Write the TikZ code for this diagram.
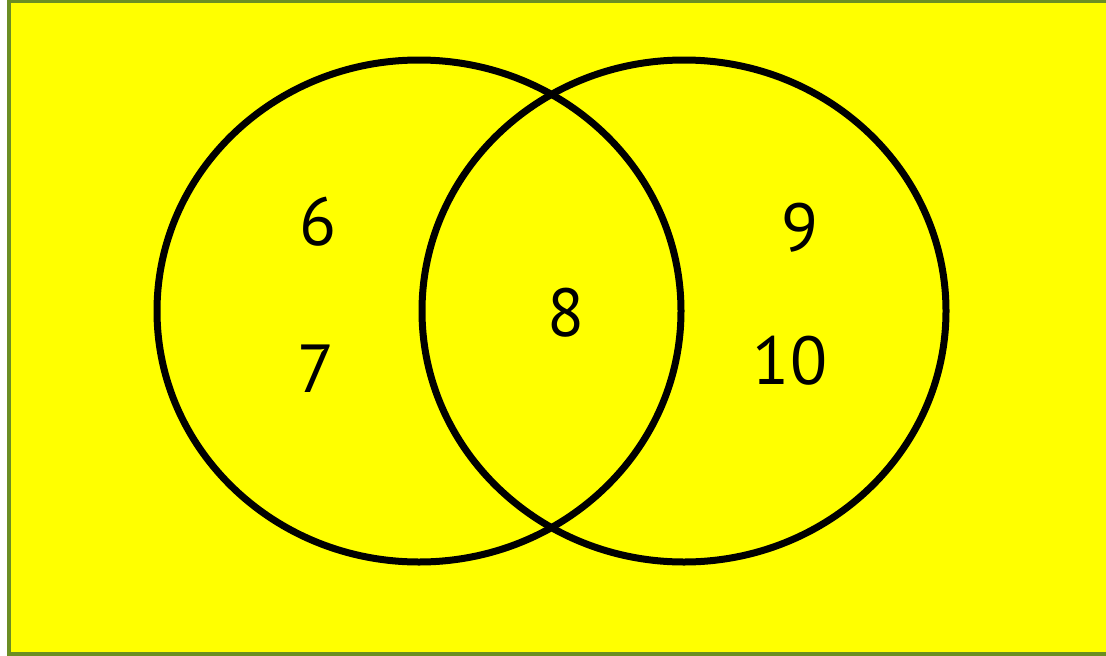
\documentclass[tikz,border=0pt]{standalone}
\usepackage{fontspec}
\setmainfont{PT Sans}
\usepackage{xcolor}
\usetikzlibrary{shapes,positioning}
\definecolor{venngreen}{HTML}{6B8E23}
\definecolor{vennyellow}{HTML}{FFFF00}

\begin{document}
\begin{tikzpicture}[
  x=1pt, y=-1pt,
  vset/.style={ellipse, draw=black, line width=7pt, minimum width=524pt, minimum height=502pt, inner sep=0pt},
  elem/.style={font=\fontsize{68}{80}\selectfont, inner sep=0pt}
]
  \useasboundingbox (0,0) rectangle (1106,656);
  % Universal set
  \draw[fill=vennyellow, draw=venngreen, line width=4pt] (9,1) rectangle (1112,654);

  % Sets
  \node[vset] (setA) at (419,311) {};
  \node[vset] (setB) at (684,311) {};

  % Elements
  \node[elem] (e6) at (318,222) {6};
  \node[elem] (e7) at (316,369) {7};
  \node[elem] (e8) at (566,313) {8};
  \node[elem] (e9) at (800,228) {9};
  \node[elem] (e10) at (790,361) {10};
\end{tikzpicture}
\end{document}
